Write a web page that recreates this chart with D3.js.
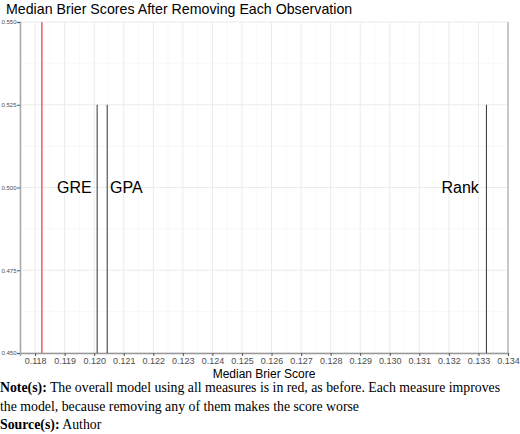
<!DOCTYPE html>
<html>
<head>
<meta charset="utf-8">
<script src="https://cdn.jsdelivr.net/npm/d3@7"></script>
<style>
  body { margin: 0; background: #fff; }
  svg { display: block; }
</style>
</head>
<body>
<div id="chart"></div>
<script>
// measure removed -> median brier score
var measures = ['GRE', 'GPA', 'Rank'],
    scores = [0.12010, 0.12044, 0.13327],
    labelX = [0.11933, 0.12109, 0.13238],
    fullModel = 0.11823;

var xTicks = d3.range(0.118, 0.13401, 0.001),
    yTicks = [0.450, 0.475, 0.500, 0.525, 0.550];

var W = 520, H = 434,
    padL = 20, padR = 508, padT = 22, padB = 353;

var svg = d3.select('#chart').append('svg')
    .attr('width', W)
    .attr('height', H)

var x = d3.scaleLinear().domain([0.11749, 0.134]).range([padL, padR]),
    y = d3.scaleLinear().domain([0.45, 0.55]).range([padB, padT]);

// grid
var grid = svg.append('g')
grid.selectAll('.vminor')
    .data(xTicks.map(function(d) { return d - 0.0005 }))
    .enter().append('line')
    .attr('x1', function(d) { return x(d) }).attr('x2', function(d) { return x(d) })
    .attr('y1', padT).attr('y2', padB)
    .attr('stroke', '#f5f5f5').attr('stroke-width', 0.6)
grid.selectAll('.hminor')
    .data([0.4625, 0.4875, 0.5125, 0.5375])
    .enter().append('line')
    .attr('x1', padL).attr('x2', padR)
    .attr('y1', function(d) { return y(d) }).attr('y2', function(d) { return y(d) })
    .attr('stroke', '#f5f5f5').attr('stroke-width', 0.6)
grid.selectAll('.vmajor')
    .data(xTicks)
    .enter().append('line')
    .attr('x1', function(d) { return x(d) }).attr('x2', function(d) { return x(d) })
    .attr('y1', padT).attr('y2', padB)
    .attr('stroke', '#ebebeb').attr('stroke-width', 1)
grid.selectAll('.hmajor')
    .data(yTicks)
    .enter().append('line')
    .attr('x1', padL).attr('x2', padR)
    .attr('y1', function(d) { return y(d) }).attr('y2', function(d) { return y(d) })
    .attr('stroke', '#ebebeb').attr('stroke-width', 1)

// axes
var xAxis = d3.axisBottom(x).tickValues(xTicks).tickSize(3).tickPadding(2)
    .tickFormat(d3.format('.3f'))
var gx = svg.append('g')
    .attr('transform', 'translate(0,' + padB + ')')
    .call(xAxis)
gx.select('.domain').attr('stroke', '#999').attr('stroke-width', 1.3)
gx.selectAll('.tick line').attr('stroke', '#555')
gx.selectAll('text').attr('fill', '#4d4d4d').style('font-family', 'Liberation Sans, Arial, sans-serif').style('font-size', '9px')

var yAxis = d3.axisLeft(y).tickValues(yTicks).tickSize(3).tickPadding(0.5)
    .tickFormat(d3.format('.3f'))
var gy = svg.append('g')
    .attr('transform', 'translate(' + padL + ',0)')
    .call(yAxis)
gy.select('.domain').attr('stroke', '#aaa').attr('stroke-width', 1.6)
gy.selectAll('.tick line').attr('stroke', '#555')
gy.selectAll('text').attr('fill', '#4d4d4d').style('font-family', 'Liberation Sans, Arial, sans-serif').style('font-size', '6px')

// right edge
svg.append('line')
    .attr('x1', padR).attr('x2', padR).attr('y1', padT).attr('y2', padB)
    .attr('stroke', '#aaa').attr('stroke-width', 1.2)

// overall model
svg.append('line')
    .attr('x1', x(fullModel)).attr('x2', x(fullModel))
    .attr('y1', y(0.55)).attr('y2', y(0.45))
    .attr('stroke', '#e8555a').attr('stroke-width', 1.4)

// each removed measure
svg.selectAll('.vl')
    .data(scores)
    .enter().append('line')
    .attr('x1', function(d) { return x(d) }).attr('x2', function(d) { return x(d) })
    .attr('y1', y(0.525)).attr('y2', y(0.45))
    .attr('stroke', '#333').attr('stroke-width', 1)

svg.selectAll('.lab')
    .data(measures)
    .enter().append('text')
    .attr('x', function(d, i) { return x(labelX[i]) })
    .attr('y', y(0.5))
    .attr('dy', '0.35em')
    .attr('text-anchor', 'middle')
    .style('font-family', 'Liberation Sans, Arial, sans-serif')
    .style('font-size', '16px')
    .text(function(d) { return d })

// titles
svg.append('text')
    .attr('x', 6).attr('y', 14)
    .style('font-family', 'Liberation Sans, Arial, sans-serif')
    .style('font-size', '14.2px')
    .text('Median Brier Scores After Removing Each Observation')

svg.append('text')
    .attr('x', (padL + padR) / 2).attr('y', 378)
    .attr('text-anchor', 'middle')
    .style('font-family', 'Liberation Sans, Arial, sans-serif')
    .style('font-size', '12px')
    .text('Median Brier Score')

// note
var note = svg.append('g')
    .style('font-family', 'Liberation Serif, Times New Roman, serif')
    .style('font-size', '13.8px')
var l1 = note.append('text').attr('x', 0).attr('y', 392)
l1.append('tspan').style('font-weight', 'bold').text('Note(s):')
l1.append('tspan').text(' The overall model using all measures is in red, as before. Each measure improves')
note.append('text').attr('x', 0).attr('y', 411)
    .text('the model, because removing any of them makes the score worse')
var l3 = note.append('text').attr('x', 0).attr('y', 429)
l3.append('tspan').style('font-weight', 'bold').text('Source(s):')
l3.append('tspan').text(' Author')
</script>
</body>
</html>
